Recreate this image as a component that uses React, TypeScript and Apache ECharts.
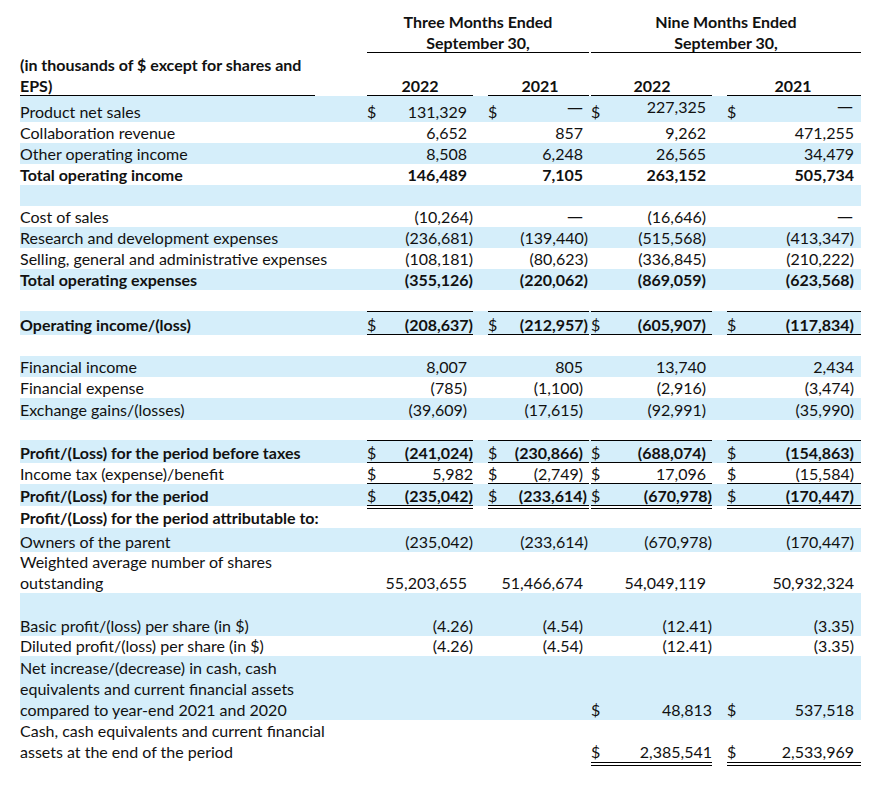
import React, { useEffect, useRef } from "react";
import * as echarts from "echarts";

// ---------- DATA ----------
const periodHeaders = ["Three Months Ended", "Nine Months Ended"];
const periodSub = "September 30,";
const yearLabels = ["2022", "2021", "2022", "2021"];
const unitLabel = ["(in thousands of $ except for shares and", "EPS)"];

const rowLabels: string[] = [
  "Product net sales",
  "Collaboration revenue",
  "Other operating income",
  "Total operating income",
  "",
  "Cost of sales",
  "Research and development expenses",
  "Selling, general and administrative expenses",
  "Total operating expenses",
  "",
  "Operating income/(loss)",
  "",
  "Financial income",
  "Financial expense",
  "Exchange gains/(losses)",
  "",
  "Profit/(Loss) for the period before taxes",
  "Income tax (expense)/benefit",
  "Profit/(Loss) for the period",
  "Profit/(Loss) for the period attributable to:",
  "Owners of the parent",
  "Weighted average number of shares\noutstanding",
  "",
  "Basic profit/(loss) per share (in $)",
  "Diluted profit/(loss) per share (in $)",
  "Net increase/(decrease) in cash, cash\nequivalents and current financial assets\ncompared to year-end 2021 and 2020",
  "Cash, cash equivalents and current financial\nassets at the end of the period",
];

const boldRows = [3, 8, 10, 16, 18, 19];
const decimalRows = [23, 24];

const q3_2022: (number | null)[] = [131329, 6652, 8508, 146489, null, -10264, -236681, -108181, -355126, null, -208637, null, 8007, -785, -39609, null, -241024, 5982, -235042, null, -235042, 55203655, null, -4.26, -4.26, null, null];
const q3_2021: (number | null)[] = [0, 857, 6248, 7105, null, 0, -139440, -80623, -220062, null, -212957, null, 805, -1100, -17615, null, -230866, -2749, -233614, null, -233614, 51466674, null, -4.54, -4.54, null, null];
const ytd_2022: (number | null)[] = [227325, 9262, 26565, 263152, null, -16646, -515568, -336845, -869059, null, -605907, null, 13740, -2916, -92991, null, -688074, 17096, -670978, null, -670978, 54049119, null, -12.41, -12.41, 48813, 2385541];
const ytd_2021: (number | null)[] = [0, 471255, 34479, 505734, null, 0, -413347, -210222, -623568, null, -117834, null, 2434, -3474, -35990, null, -154863, -15584, -170447, null, -170447, 50932324, null, -3.35, -3.35, 537518, 2533969];

// rows and columns with a "$" sign
const dollarCells: [number, number[]][] = [
  [0, [0, 1, 2, 3]],
  [10, [0, 1, 2, 3]],
  [16, [0, 1, 2, 3]],
  [17, [0, 1, 2, 3]],
  [18, [0, 1, 2, 3]],
  [25, [2, 3]],
  [26, [2, 3]],
];

// ---------- LAYOUT ----------
const rowBounds: [number, number][] = [
  [96, 122], [122, 143], [143, 164], [164, 185], [185, 206],
  [206, 227], [227, 248], [248, 269], [269, 290], [290, 311],
  [311, 335], [335, 356], [356, 377], [377, 398], [398, 420],
  [420, 440], [440, 463], [463, 484], [484, 506], [506, 528],
  [528, 552], [552, 593], [593, 614], [614, 636], [636, 656],
  [656, 720], [720, 762],
];
const blueRows = [0, 2, 4, 6, 8, 10, 12, 14, 16, 18, 20, 22, 23, 25];
const rightEdges: Record<number, number[]> = {
  0: [467, 583, 706, 853], 1: [467, 583, 706, 854], 2: [467, 583, 706, 854], 3: [467, 583, 706, 854],
  5: [473, 583, 706, 853], 6: [473, 588, 706, 854], 7: [473, 588, 706, 854], 8: [473, 588, 706, 854],
  10: [473, 588, 706, 854], 12: [467, 583, 706, 854], 13: [467, 583, 706, 854], 14: [467, 583, 706, 854],
  16: [473, 583, 706, 854], 17: [473, 583, 706, 854], 18: [473, 587, 712, 854], 20: [473, 588, 712, 854],
  21: [467, 583, 706, 854], 23: [473, 583, 712, 854], 24: [473, 583, 712, 854], 25: [473, 583, 712, 854],
  26: [473, 583, 712, 854],
};
const valueDy: Record<number, number[]> = { 0: [0, -4, -5, -5] };
const dollarX = [367, 488, 591, 727];
const colSpans: [number, number][] = [[367, 473], [488, 589], [591, 712], [727, 861]];

const BLUE = "#D5EEFA";
const INK = "#111111";
const FONT = "Lato, 'Open Sans', sans-serif";
const FS = 16;

function fmt(v: number | null, dec: number): string | null {
  if (v === null) return null;
  if (v === 0) return "—";
  const s = Math.abs(v).toLocaleString("en-US", { minimumFractionDigits: dec, maximumFractionDigits: dec });
  return v < 0 ? `(${s})` : s;
}

function txt(text: string, x: number, y: number, bold: boolean, align: string) {
  const family = text === "—" ? "'DejaVu Sans', sans-serif" : FONT;
  return {
    type: "text",
    x,
    y,
    silent: true,
    style: {
      text,
      fill: INK,
      font: `${bold ? "bold " : ""}${FS}px ${family}`,
      textAlign: align,
      textVerticalAlign: "middle",
      align,
      verticalAlign: "middle",
    },
  };
}

function hline(x1: number, x2: number, y: number) {
  return {
    type: "line",
    silent: true,
    shape: { x1, y1: y + 0.5, x2, y2: y + 0.5 },
    style: { stroke: "#000", lineWidth: 1 },
  };
}

function buildGraphics() {
  const els: any[] = [];
  blueRows.forEach((r) => {
    const [t, b] = rowBounds[r];
    els.push({ type: "rect", silent: true, shape: { x: 20, y: t, width: 841, height: b - t }, style: { fill: BLUE } });
  });
  els.push(txt(periodHeaders[0], 478, 21, true, "center"));
  els.push(txt(periodSub, 478, 42, true, "center"));
  els.push(txt(periodHeaders[1], 726, 21, true, "center"));
  els.push(txt(periodSub, 726, 42, true, "center"));
  els.push(hline(367, 589, 52));
  els.push(hline(591, 861, 52));
  const yearX = [420, 540, 652, 793];
  yearLabels.forEach((y, i) => els.push(txt(y, yearX[i], 85, true, "center")));
  els.push(txt(unitLabel[0], 20, 64, true, "left"));
  els.push(txt(unitLabel[1], 20, 85, true, "left"));
  els.push(hline(20, 315, 95));
  colSpans.forEach(([a, b]) => els.push(hline(a, b, 95)));

  const cols = [q3_2022, q3_2021, ytd_2022, ytd_2021];
  rowLabels.forEach((label, r) => {
    const [, bottom] = rowBounds[r];
    const lastY = bottom - 10.5;
    const bold = boldRows.includes(r);
    if (label) {
      const lines = label.split("\n");
      lines.forEach((ln, i) => {
        els.push(txt(ln, 20, lastY - (lines.length - 1 - i) * 21, bold, "left"));
      });
    }
    const dec = decimalRows.includes(r) ? 2 : 0;
    cols.forEach((col, c) => {
      const s = fmt(col[r], dec);
      if (s === null) return;
      const re = rightEdges[r] ? rightEdges[r][c] : colSpans[c][1];
      const dy = valueDy[r] ? valueDy[r][c] : 0;
      els.push(txt(s, re, lastY + dy, bold, "right"));
    });
  });
  dollarCells.forEach(([r, cs]) => {
    const y = rowBounds[r][1] - 10.5;
    cs.forEach((c) => els.push(txt("$", dollarX[c], y, false, "left")));
  });
  colSpans.forEach(([a, b]) => {
    els.push(hline(a, b, 311));
    els.push(hline(a, b, 334));
    els.push(hline(a, b, 440));
    els.push(hline(a, b, 462));
    els.push(hline(a, b, 483));
    els.push(hline(a, b, 505));
    els.push(hline(a, b, 508));
  });
  colSpans.slice(2).forEach(([a, b]) => {
    els.push(hline(a, b, 762));
    els.push(hline(a, b, 765));
  });
  return els;
}

export default function App() {
  const ref = useRef<HTMLDivElement>(null);
  useEffect(() => {
    if (!ref.current) return;
    const chart = echarts.init(ref.current, undefined, { renderer: "svg" });
    chart.setOption({
      animation: false,
      backgroundColor: "#ffffff",
      graphic: { elements: buildGraphics() },
    });
    return () => chart.dispose();
  }, []);
  return (
    <div
      ref={ref}
      style={{ position: "fixed", left: 0, top: 0, width: 887, height: 786 }}
    />
  );
}
